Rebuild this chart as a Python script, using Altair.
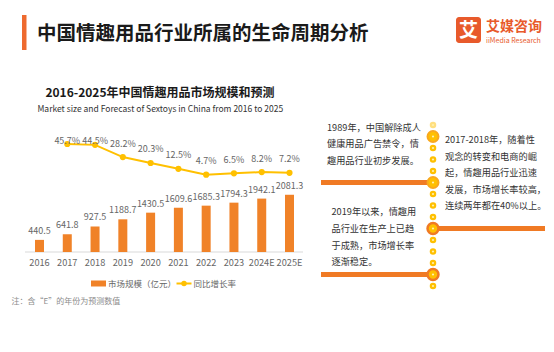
import altair as alt
import pandas as pd

# ---------------- data ----------------
years = ["2016", "2017", "2018", "2019", "2020", "2021", "2022", "2023", "2024E", "2025E"]
market_size = [440.5, 641.8, 927.5, 1188.7, 1430.5, 1609.6, 1685.3, 1794.3, 1942.1, 2081.3]
growth_years = ["2017", "2018", "2019", "2020", "2021", "2022", "2023", "2024E", "2025E"]
growth_rate = [45.7, 44.5, 28.2, 20.3, 12.5, 4.7, 6.5, 8.2, 7.2]

timeline_steps = list(range(15))
milestone_steps = [1, 5, 9, 13]
milestone_kinds = ["yellow", "yellow", "orange", "orange"]
branch_steps = [5, 9, 13]
branch_sides = ["left", "right", "left"]

note_1989 = ["1989年，中国解除成人", "健康用品广告禁令，情", "趣用品行业初步发展。"]
note_2017 = ["2017-2018年，随着性", "观念的转变和电商的崛", "起，情趣用品行业迅速",
             "发展，市场增长率较高，", "连续两年都在40%以上。"]
note_2019 = ["2019年以来，情趣用", "品行业在生产上已趋", "于成熟，市场增长率", "逐渐稳定。"]

header_title = "中国情趣用品行业所属的生命周期分析"
chart_title = "2016-2025年中国情趣用品市场规模和预测"
chart_subtitle = "Market size and Forecast of Sextoys in China from 2016 to 2025"
legend_labels = ["市场规模（亿元）", "同比增长率"]
footnote = "注：含“E”的年份为预测数值"
brand_cn = "艾媒咨询"
brand_logo_char = "艾"
brand_en = "iiMedia Research"

# ---------------- styles ----------------
FONT = "Noto Sans CJK SC"
ORANGE = "#F08228"
YELLOW = "#FFC000"
LINE_ORANGE = "#F07A24"
BRAND = "#E85A2B"
GRAY = "#666666"

df_bar = pd.DataFrame({"year": years, "size": market_size})
df_rate = pd.DataFrame({"year": growth_years, "rate": growth_rate})
df_tl = pd.DataFrame({"step": timeline_steps})
df_ms = pd.DataFrame({"step": milestone_steps, "kind": milestone_kinds})
df_br = pd.DataFrame({"step": branch_steps, "side": branch_sides})
one = pd.DataFrame({"k": [0]})

xs = alt.Scale(domain=years, range=[25.6, 303.4], paddingInner=0.676, paddingOuter=0.338)
ys_bar = alt.Scale(domain=[0, 2000], range=[252, 197], nice=False, zero=True)
ys_rate = alt.Scale(domain=[0, 40], range=[178.2, 148.24], nice=False, zero=False)
ys_tl = alt.Scale(domain=[0, 14], range=[125, 286], nice=False, zero=False)

X = alt.X("year:N", scale=xs, axis=None, sort=years)

# ---------------- bar group ----------------
bars = alt.Chart(df_bar).mark_bar(color=ORANGE).encode(
    x=X, y=alt.Y("size:Q", scale=ys_bar, axis=None)
)
bar_labels = alt.Chart(df_bar).mark_text(
    font=FONT, fontSize=9, color=GRAY, baseline="bottom", dy=-4
).encode(x=X, y=alt.Y("size:Q", scale=ys_bar, axis=None), text=alt.Text("size:Q", format=".1f"))
year_labels = alt.Chart(df_bar).mark_text(
    font=FONT, fontSize=9.2, color=GRAY, baseline="middle"
).encode(x=X, y=alt.value(263), text="year:N")
baseline = alt.Chart(one).mark_rule(color="#d9d9d9", strokeWidth=1).encode(
    x=alt.value(25), x2=alt.value(303), y=alt.value(252)
)
bar_group = alt.layer(baseline, bars, bar_labels, year_labels)

# ---------------- growth group ----------------
rate_line = alt.Chart(df_rate).mark_line(color=YELLOW, strokeWidth=2).encode(
    x=X, y=alt.Y("rate:Q", scale=ys_rate, axis=None)
)
rate_pts = alt.Chart(df_rate).mark_circle(color=YELLOW, size=38, opacity=1).encode(
    x=X, y=alt.Y("rate:Q", scale=ys_rate, axis=None)
)
rate_labels = alt.Chart(df_rate).transform_calculate(
    label_rate="min(datum.rate, 32)",
    label="format(datum.rate, '.1f') + '%'",
).mark_text(font=FONT, fontSize=9, color=GRAY, baseline="middle", dy=-13.5).encode(
    x=X, y=alt.Y("label_rate:Q", scale=ys_rate, axis=None), text="label:N"
)
rate_group = alt.layer(rate_line, rate_pts, rate_labels)

# ---------------- timeline group ----------------
TY = alt.Y("step:Q", scale=ys_tl, axis=None)
branch_left = alt.Chart(df_br).transform_filter(alt.datum.side == "left").mark_rule(
    color=LINE_ORANGE, strokeWidth=5
).encode(x=alt.value(321), x2=alt.value(433), y=TY)
branch_right = alt.Chart(df_br).transform_filter(alt.datum.side == "right").mark_rule(
    color=LINE_ORANGE, strokeWidth=5
).encode(x=alt.value(433), x2=alt.value(545), y=TY)
dots = alt.Chart(df_tl).mark_circle(color=YELLOW, size=42).encode(
    x=alt.value(433), y=TY,
    opacity=alt.condition(alt.datum.step == 0, alt.value(0.5), alt.value(1)),
)
big_yellow = alt.Chart(df_ms).transform_filter(alt.datum.kind == "yellow").mark_point(
    shape="circle", filled=True, fill=YELLOW, stroke="#F9A81E", strokeWidth=2, size=120, opacity=1
).encode(x=alt.value(433), y=TY)
big_orange = alt.Chart(df_ms).transform_filter(alt.datum.kind == "orange").mark_point(
    shape="circle", filled=True, fill=YELLOW, stroke=LINE_ORANGE, strokeWidth=2.5, size=120, opacity=1
).encode(x=alt.value(433), y=TY)
centers = alt.Chart(df_tl).mark_circle(color="#FFF0B0", size=5, opacity=1).encode(
    x=alt.value(433), y=TY
)
tl_group = alt.layer(branch_left, branch_right, dots, big_yellow, big_orange, centers)

# ---------------- decorations ----------------
def txt(text, x, y, size, color="#333333", weight="normal", align="left", baseline="middle", lh=None):
    kw = dict(text=text, font=FONT, fontSize=size, color=color, fontWeight=weight,
              align=align, baseline=baseline)
    if lh is not None:
        kw["lineHeight"] = lh
    return alt.Chart(one).mark_text(**kw).encode(x=alt.value(x), y=alt.value(y))

def box(x, x2, y, y2, color, radius=0):
    return alt.Chart(one).mark_rect(color=color, cornerRadius=radius).encode(
        x=alt.value(x), x2=alt.value(x2), y=alt.value(y), y2=alt.value(y2)
    )

header_bar = box(22, 26.5, 15, 50, "#EE6A2F")
header = txt(header_title, 37, 34, 19.5, color="#1a1a1a", weight="bold")
logo_box = box(456, 481, 17, 43, BRAND, radius=3)
logo_char = txt(brand_logo_char, 468.5, 30.5, 19, color="white", weight="bold", align="center")
logo_cn = txt(brand_cn, 486, 26.5, 14, color=BRAND, weight="bold")
logo_en = txt(brand_en, 486, 41, 7, color=BRAND)

c_title = txt(chart_title, 160, 92.5, 12, color="#1a1a1a", weight="bold", align="center")
c_sub = txt(chart_subtitle, 160.3, 109, 8.5, color="#333333", align="center")

leg_rect = box(91, 106, 280.5, 286.5, ORANGE)
leg_t1 = txt(legend_labels[0], 108, 283.5, 8.5, color=GRAY)
leg_line = alt.Chart(one).mark_rule(color=YELLOW, strokeWidth=2).encode(
    x=alt.value(176.5), x2=alt.value(191.5), y=alt.value(283.5)
)
leg_pt = alt.Chart(one).mark_circle(color=YELLOW, size=30, opacity=1).encode(
    x=alt.value(184), y=alt.value(283.5)
)
leg_t2 = txt(legend_labels[1], 193.5, 283.5, 8.5, color=GRAY)

foot = txt(footnote, 11.5, 301.5, 8, color="#8c8c8c")

note1 = txt(note_1989, 327, 127.5, 9.2, baseline="middle", lh=16.5)
note2 = txt(note_2017, 445, 140, 9.2, baseline="middle", lh=16.5)
note3 = txt(note_2019, 331.5, 212, 9.2, baseline="middle", lh=16.8)

chart = alt.layer(
    header_bar, header, logo_box, logo_char, logo_cn, logo_en,
    c_title, c_sub,
    bar_group, rate_group, tl_group,
    leg_rect, leg_t1, leg_line, leg_pt, leg_t2, foot,
    note1, note2, note3,
).resolve_scale(y="independent").properties(
    width=554, height=352, padding=0,
    autosize=alt.AutoSizeParams(type="none"),
    background="white",
).configure_view(stroke=None)

chart.save("out.html", embed_options={"renderer": "svg", "actions": False})
